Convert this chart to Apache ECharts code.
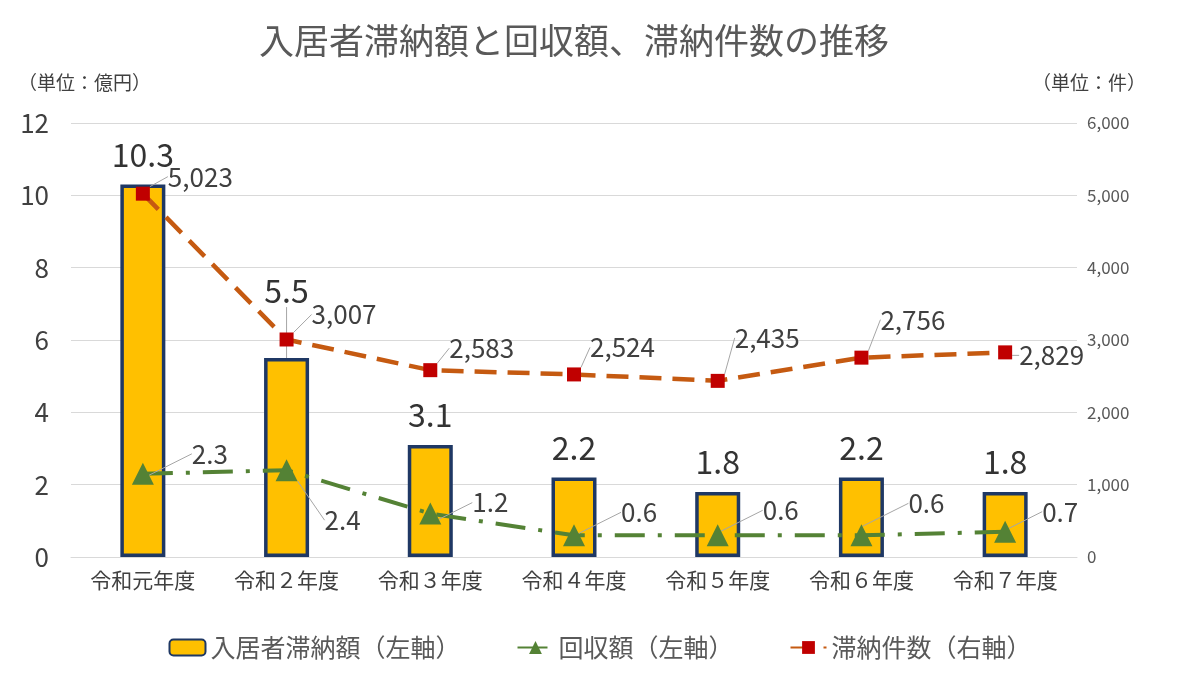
<!DOCTYPE html>
<html>
<head>
<meta charset="utf-8">
<script src="https://cdn.jsdelivr.net/npm/echarts@6/dist/echarts.min.js"></script>
<style>
  html, body { margin: 0; padding: 0; background: #fff; }
  #chart { width: 1200px; height: 685px; }
</style>
</head>
<body>
<div id="chart"></div>
<script>
// データ
const categories = ['令和元年度', '令和２年度', '令和３年度', '令和４年度', '令和５年度', '令和６年度', '令和７年度'];
const arrears = [10.3, 5.5, 3.1, 2.2, 1.8, 2.2, 1.8];        // 入居者滞納額（億円）
const collected = [2.3, 2.4, 1.2, 0.6, 0.6, 0.6, 0.7];       // 回収額（億円）
const arrearsCount = [5023, 3007, 2583, 2524, 2435, 2756, 2829]; // 滞納件数（件）

// ラベル位置の調整 [dx, dy]
const barLabelShift = [[0, 0], [0, -37], [0, 0], [0, 0], [0, 0], [0, 0], [0, 0]];
const countLabelShift = [[14, -17], [14, -25], [8, -22], [5, -27], [6, -43], [8, -38], [3, 3]];
const collectedLabelShift = [[34, -20], [23, 50], [27, -11], [32, -23], [30, -25], [32, -32], [22, -20]];

const FONT = '"Noto Sans CJK JP", "Noto Sans", sans-serif';

const chart = echarts.init(document.getElementById('chart'));

// 位置を動かした棒ラベルだけに引き出し線を付ける
const barData = arrears.map((v, i) => ({
    value: v,
    labelLine: { show: barLabelShift[i][1] !== 0 }
}));

const option = {
    backgroundColor: '#fff',
    textStyle: { fontFamily: FONT },
    title: {
        text: '入居者滞納額と回収額、滞納件数の推移',
        left: 569,
        top: 18,
        textAlign: 'center',
        textStyle: { fontSize: 35, fontWeight: 'normal', color: '#595959', fontFamily: FONT }
    },
    graphic: [
        { type: 'text', left: 18, top: 73, style: { text: '（単位：億円）', fill: '#404040', font: '19px ' + FONT } },
        { type: 'text', right: 54, top: 73, style: { text: '（単位：件）', fill: '#404040', font: '19px ' + FONT } }
    ],
    legend: {
        top: 630,
        left: 'center',
        itemGap: 56,
        itemWidth: 36,
        itemHeight: 16,
        textStyle: { fontSize: 25, color: '#595959', fontFamily: FONT },
        data: ['入居者滞納額（左軸）', '回収額（左軸）', '滞納件数（右軸）']
    },
    grid: { left: 71, right: 123, top: 123, bottom: 128 },
    xAxis: {
        type: 'category',
        data: categories,
        axisLine: { lineStyle: { color: '#d9d9d9' } },
        axisTick: { show: false },
        axisLabel: { fontSize: 21, color: '#404040', margin: 13, fontFamily: FONT }
    },
    yAxis: [
        {
            type: 'value',
            min: 0, max: 12, interval: 2,
            axisLine: { show: false },
            axisTick: { show: false },
            axisLabel: { fontSize: 26, color: '#404040', margin: 22, fontFamily: FONT },
            splitLine: { lineStyle: { color: '#d9d9d9' } }
        },
        {
            type: 'value',
            min: 0, max: 6000, interval: 1000,
            axisLine: { show: false },
            axisTick: { show: false },
            axisLabel: {
                fontSize: 17, color: '#595959', margin: 10, fontFamily: FONT,
                formatter: v => v.toLocaleString('en-US')
            },
            splitLine: { show: false }
        }
    ],
    series: [
        {
            name: '入居者滞納額（左軸）',
            type: 'bar',
            data: barData,
            barWidth: 45,
            itemStyle: { color: '#FFC000', borderColor: '#1F3864', borderWidth: 3.5 },
            label: {
                show: true, position: 'top', distance: 14,
                fontSize: 32, color: '#333333', fontFamily: FONT,
                formatter: p => p.value.toFixed(1)
            },
            labelLine: { lineStyle: { color: '#a6a6a6', width: 1 } },
            labelLayout: p => ({ dx: barLabelShift[p.dataIndex][0], dy: barLabelShift[p.dataIndex][1] }),
            z: 1
        },
        {
            name: '回収額（左軸）',
            type: 'line',
            data: collected,
            symbol: 'triangle',
            symbolSize: 22,
            itemStyle: { color: '#548235' },
            lineStyle: { color: '#548235', width: 4, type: [30, 13, 4, 13] },
            label: {
                show: true, position: 'right', distance: 4,
                fontSize: 26, color: '#404040', fontFamily: FONT,
                formatter: p => p.value.toFixed(1)
            },
            labelLine: { show: true, lineStyle: { color: '#a6a6a6', width: 1 } },
            labelLayout: p => ({ dx: collectedLabelShift[p.dataIndex][0], dy: collectedLabelShift[p.dataIndex][1] }),
            z: 3
        },
        {
            name: '滞納件数（右軸）',
            type: 'line',
            yAxisIndex: 1,
            data: arrearsCount,
            symbol: 'rect',
            symbolSize: 14,
            itemStyle: { color: '#C00000' },
            lineStyle: { color: '#C55A11', width: 4.5, type: [22, 11] },
            label: {
                show: true, position: 'right', distance: 4,
                fontSize: 26, color: '#404040', fontFamily: FONT,
                formatter: p => p.value.toLocaleString('en-US')
            },
            labelLine: { show: true, lineStyle: { color: '#a6a6a6', width: 1 } },
            labelLayout: p => ({ dx: countLabelShift[p.dataIndex][0], dy: countLabelShift[p.dataIndex][1] }),
            z: 4
        }
    ]
};

chart.setOption(option);

window.addEventListener('resize', () => {
    chart.resize();
});
</script>
</body>
</html>
